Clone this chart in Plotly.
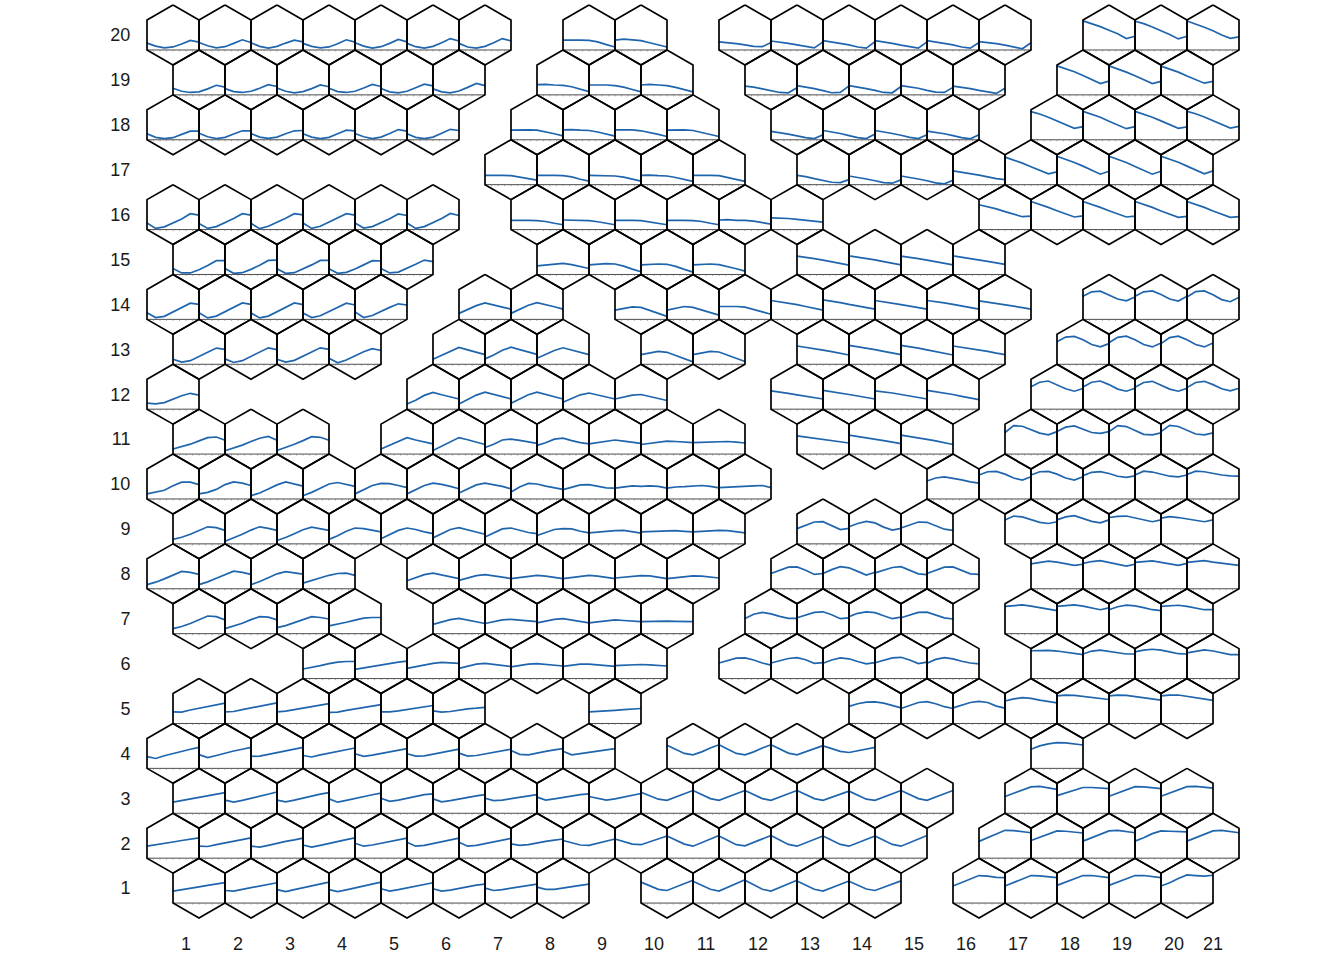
import plotly.graph_objects as go

# ------------------------------------------------------------------
# Data: for every row of the hexagonal map, the occupied columns and
# the profile drawn inside each hexagon (7 samples, 0 = panel floor,
# 1 = panel top).
# ------------------------------------------------------------------
row20_cols = [1, 2, 3, 4, 5, 6, 7, 9, 10, 12, 13, 14, 15, 16, 17, 19, 20, 21]
row20_vals = [
    [0.23, 0.13, 0.07, 0.10, 0.20, 0.32, 0.26],
    [0.25, 0.14, 0.07, 0.11, 0.22, 0.34, 0.25],
    [0.24, 0.12, 0.06, 0.12, 0.23, 0.33, 0.27],
    [0.22, 0.12, 0.07, 0.10, 0.21, 0.34, 0.26],
    [0.24, 0.13, 0.06, 0.11, 0.22, 0.35, 0.27],
    [0.22, 0.11, 0.06, 0.12, 0.24, 0.38, 0.30],
    [0.22, 0.10, 0.06, 0.12, 0.24, 0.38, 0.30],
    [0.33, 0.34, 0.33, 0.32, 0.27, 0.18, 0.10],
    [0.33, 0.36, 0.34, 0.31, 0.24, 0.17, 0.10],
    [0.27, 0.25, 0.21, 0.17, 0.12, 0.11, 0.25],
    [0.30, 0.27, 0.22, 0.17, 0.11, 0.07, 0.27],
    [0.31, 0.27, 0.22, 0.17, 0.10, 0.06, 0.28],
    [0.31, 0.27, 0.22, 0.16, 0.10, 0.06, 0.27],
    [0.31, 0.27, 0.23, 0.17, 0.10, 0.06, 0.25],
    [0.28, 0.25, 0.21, 0.16, 0.09, 0.04, 0.24],
    [0.97, 0.88, 0.78, 0.66, 0.54, 0.38, 0.46],
    [0.96, 0.88, 0.77, 0.65, 0.52, 0.37, 0.46],
    [0.97, 0.87, 0.76, 0.64, 0.50, 0.39, 0.44],
]

row19_cols = [1, 2, 3, 4, 5, 6, 8, 9, 10, 12, 13, 14, 15, 16, 18, 19, 20]
row19_vals = [
    [0.22, 0.12, 0.08, 0.10, 0.20, 0.32, 0.26],
    [0.21, 0.11, 0.08, 0.12, 0.22, 0.34, 0.28],
    [0.23, 0.12, 0.07, 0.11, 0.21, 0.33, 0.27],
    [0.22, 0.11, 0.08, 0.12, 0.23, 0.35, 0.28],
    [0.21, 0.10, 0.07, 0.12, 0.24, 0.36, 0.30],
    [0.20, 0.10, 0.07, 0.13, 0.25, 0.38, 0.31],
    [0.34, 0.35, 0.33, 0.32, 0.27, 0.18, 0.11],
    [0.33, 0.34, 0.33, 0.31, 0.26, 0.18, 0.10],
    [0.33, 0.35, 0.33, 0.31, 0.25, 0.17, 0.10],
    [0.29, 0.26, 0.20, 0.14, 0.08, 0.07, 0.24],
    [0.31, 0.27, 0.21, 0.14, 0.07, 0.08, 0.30],
    [0.31, 0.27, 0.21, 0.15, 0.08, 0.07, 0.28],
    [0.31, 0.27, 0.22, 0.15, 0.09, 0.08, 0.25],
    [0.29, 0.26, 0.21, 0.15, 0.09, 0.05, 0.22],
    [0.97, 0.88, 0.77, 0.65, 0.52, 0.38, 0.46],
    [0.97, 0.87, 0.76, 0.64, 0.51, 0.38, 0.45],
    [0.96, 0.87, 0.76, 0.63, 0.50, 0.39, 0.45],
]

row18_cols = [1, 2, 3, 4, 5, 6, 8, 9, 10, 11, 13, 14, 15, 16, 18, 19, 20, 21]
row18_vals = [
    [0.20, 0.08, 0.04, 0.07, 0.18, 0.29, 0.29],
    [0.22, 0.10, 0.04, 0.08, 0.19, 0.30, 0.30],
    [0.21, 0.09, 0.05, 0.09, 0.20, 0.30, 0.31],
    [0.20, 0.09, 0.04, 0.08, 0.20, 0.32, 0.30],
    [0.21, 0.10, 0.04, 0.09, 0.21, 0.34, 0.29],
    [0.20, 0.08, 0.04, 0.09, 0.22, 0.35, 0.31],
    [0.32, 0.33, 0.33, 0.32, 0.27, 0.20, 0.13],
    [0.33, 0.34, 0.32, 0.31, 0.26, 0.19, 0.12],
    [0.33, 0.33, 0.33, 0.30, 0.25, 0.18, 0.11],
    [0.32, 0.33, 0.33, 0.31, 0.25, 0.17, 0.11],
    [0.28, 0.24, 0.19, 0.13, 0.07, 0.04, 0.17],
    [0.31, 0.27, 0.21, 0.14, 0.07, 0.04, 0.19],
    [0.31, 0.27, 0.21, 0.15, 0.08, 0.04, 0.17],
    [0.29, 0.25, 0.20, 0.14, 0.07, 0.03, 0.17],
    [0.94, 0.86, 0.75, 0.63, 0.50, 0.38, 0.44],
    [0.95, 0.86, 0.75, 0.62, 0.50, 0.37, 0.44],
    [0.95, 0.86, 0.75, 0.63, 0.51, 0.38, 0.43],
    [0.95, 0.87, 0.76, 0.64, 0.52, 0.39, 0.45],
]

row17_cols = [7, 8, 9, 10, 11, 13, 14, 15, 16, 17, 18, 19, 20]
row17_vals = [
    [0.31, 0.32, 0.31, 0.30, 0.25, 0.19, 0.15],
    [0.31, 0.32, 0.31, 0.30, 0.26, 0.18, 0.12],
    [0.31, 0.31, 0.31, 0.29, 0.25, 0.18, 0.12],
    [0.31, 0.32, 0.30, 0.29, 0.24, 0.17, 0.11],
    [0.31, 0.32, 0.31, 0.30, 0.24, 0.16, 0.11],
    [0.31, 0.27, 0.20, 0.14, 0.08, 0.07, 0.17],
    [0.29, 0.25, 0.19, 0.13, 0.07, 0.05, 0.16],
    [0.29, 0.25, 0.19, 0.13, 0.06, 0.03, 0.15],
    [0.46, 0.42, 0.37, 0.32, 0.26, 0.20, 0.17],
    [0.92, 0.83, 0.72, 0.60, 0.47, 0.36, 0.43],
    [0.95, 0.85, 0.74, 0.62, 0.49, 0.35, 0.45],
    [0.95, 0.85, 0.74, 0.61, 0.49, 0.35, 0.45],
    [0.95, 0.86, 0.75, 0.62, 0.49, 0.36, 0.46],
]

row16_cols = [1, 2, 3, 4, 5, 6, 8, 9, 10, 11, 12, 13, 17, 18, 19, 20, 21]
row16_vals = [
    [0.22, 0.04, 0.09, 0.22, 0.35, 0.53, 0.48],
    [0.20, 0.04, 0.10, 0.23, 0.37, 0.53, 0.48],
    [0.21, 0.03, 0.11, 0.24, 0.38, 0.53, 0.49],
    [0.22, 0.04, 0.11, 0.25, 0.38, 0.53, 0.48],
    [0.22, 0.05, 0.10, 0.23, 0.36, 0.52, 0.47],
    [0.22, 0.04, 0.10, 0.23, 0.37, 0.54, 0.47],
    [0.31, 0.32, 0.31, 0.30, 0.27, 0.21, 0.16],
    [0.32, 0.32, 0.31, 0.30, 0.26, 0.20, 0.16],
    [0.31, 0.32, 0.31, 0.30, 0.26, 0.21, 0.16],
    [0.31, 0.32, 0.31, 0.30, 0.27, 0.21, 0.16],
    [0.32, 0.33, 0.31, 0.31, 0.28, 0.22, 0.18],
    [0.39, 0.39, 0.37, 0.34, 0.31, 0.28, 0.25],
    [0.83, 0.77, 0.69, 0.60, 0.51, 0.43, 0.45],
    [0.94, 0.85, 0.74, 0.63, 0.52, 0.42, 0.46],
    [0.94, 0.85, 0.74, 0.63, 0.52, 0.42, 0.45],
    [0.94, 0.85, 0.74, 0.62, 0.51, 0.41, 0.44],
    [0.94, 0.85, 0.74, 0.62, 0.51, 0.41, 0.43],
]

row15_cols = [1, 2, 3, 4, 5, 8, 9, 10, 11, 13, 14, 15, 16]
row15_vals = [
    [0.20, 0.05, 0.05, 0.16, 0.30, 0.46, 0.46],
    [0.20, 0.04, 0.06, 0.17, 0.31, 0.47, 0.48],
    [0.19, 0.04, 0.06, 0.18, 0.32, 0.47, 0.47],
    [0.19, 0.04, 0.07, 0.18, 0.32, 0.46, 0.45],
    [0.20, 0.05, 0.08, 0.20, 0.34, 0.48, 0.43],
    [0.29, 0.32, 0.36, 0.37, 0.33, 0.26, 0.20],
    [0.32, 0.34, 0.36, 0.35, 0.28, 0.18, 0.09],
    [0.32, 0.34, 0.35, 0.34, 0.27, 0.17, 0.08],
    [0.32, 0.34, 0.35, 0.33, 0.27, 0.19, 0.11],
    [0.61, 0.58, 0.53, 0.48, 0.43, 0.37, 0.31],
    [0.62, 0.58, 0.54, 0.49, 0.43, 0.38, 0.32],
    [0.61, 0.58, 0.53, 0.48, 0.43, 0.37, 0.32],
    [0.62, 0.58, 0.54, 0.48, 0.44, 0.39, 0.34],
]

row14_cols = [1, 2, 3, 4, 5, 7, 8, 10, 11, 12, 13, 14, 15, 16, 17, 19, 20, 21]
row14_vals = [
    [0.22, 0.06, 0.10, 0.24, 0.38, 0.54, 0.50],
    [0.22, 0.05, 0.11, 0.25, 0.39, 0.55, 0.50],
    [0.21, 0.05, 0.11, 0.25, 0.40, 0.55, 0.49],
    [0.21, 0.06, 0.12, 0.26, 0.40, 0.54, 0.48],
    [0.25, 0.06, 0.13, 0.27, 0.40, 0.52, 0.48],
    [0.20, 0.32, 0.46, 0.55, 0.49, 0.41, 0.34],
    [0.20, 0.33, 0.47, 0.56, 0.50, 0.42, 0.34],
    [0.31, 0.36, 0.42, 0.40, 0.31, 0.20, 0.10],
    [0.31, 0.37, 0.43, 0.40, 0.32, 0.22, 0.14],
    [0.43, 0.44, 0.43, 0.41, 0.34, 0.25, 0.17],
    [0.63, 0.59, 0.54, 0.49, 0.43, 0.37, 0.31],
    [0.65, 0.61, 0.56, 0.50, 0.45, 0.39, 0.34],
    [0.63, 0.59, 0.55, 0.49, 0.44, 0.39, 0.34],
    [0.63, 0.60, 0.55, 0.50, 0.44, 0.39, 0.34],
    [0.62, 0.58, 0.54, 0.49, 0.44, 0.39, 0.34],
    [0.77, 0.92, 0.94, 0.82, 0.68, 0.62, 0.75],
    [0.77, 0.92, 0.95, 0.83, 0.68, 0.61, 0.77],
    [0.75, 0.93, 0.95, 0.82, 0.66, 0.59, 0.74],
]

row13_cols = [1, 2, 3, 4, 6, 7, 8, 10, 11, 13, 14, 15, 16, 18, 19, 20]
row13_vals = [
    [0.17, 0.07, 0.12, 0.25, 0.40, 0.54, 0.50],
    [0.18, 0.06, 0.12, 0.26, 0.40, 0.55, 0.49],
    [0.17, 0.07, 0.13, 0.26, 0.41, 0.55, 0.50],
    [0.20, 0.05, 0.14, 0.28, 0.42, 0.52, 0.46],
    [0.17, 0.30, 0.45, 0.56, 0.48, 0.40, 0.32],
    [0.18, 0.31, 0.47, 0.57, 0.49, 0.41, 0.33],
    [0.20, 0.32, 0.46, 0.55, 0.47, 0.39, 0.32],
    [0.32, 0.37, 0.43, 0.40, 0.30, 0.19, 0.08],
    [0.32, 0.38, 0.43, 0.41, 0.30, 0.20, 0.09],
    [0.61, 0.57, 0.52, 0.47, 0.42, 0.36, 0.31],
    [0.63, 0.59, 0.54, 0.49, 0.43, 0.37, 0.32],
    [0.63, 0.59, 0.54, 0.48, 0.43, 0.37, 0.31],
    [0.61, 0.57, 0.53, 0.48, 0.43, 0.37, 0.32],
    [0.75, 0.91, 0.93, 0.82, 0.66, 0.58, 0.69],
    [0.72, 0.90, 0.94, 0.82, 0.66, 0.58, 0.71],
    [0.69, 0.89, 0.94, 0.82, 0.66, 0.58, 0.71],
]

row12_cols = [1, 6, 7, 8, 9, 10, 13, 14, 15, 16, 18, 19, 20, 21]
row12_vals = [
    [0.20, 0.18, 0.22, 0.34, 0.45, 0.53, 0.47],
    [0.17, 0.30, 0.46, 0.56, 0.48, 0.41, 0.34],
    [0.17, 0.31, 0.47, 0.57, 0.49, 0.41, 0.34],
    [0.20, 0.33, 0.48, 0.57, 0.49, 0.42, 0.34],
    [0.23, 0.35, 0.48, 0.54, 0.47, 0.40, 0.34],
    [0.34, 0.40, 0.47, 0.49, 0.42, 0.35, 0.29],
    [0.61, 0.58, 0.53, 0.48, 0.44, 0.38, 0.34],
    [0.63, 0.59, 0.54, 0.49, 0.44, 0.39, 0.34],
    [0.61, 0.58, 0.54, 0.49, 0.44, 0.39, 0.34],
    [0.63, 0.59, 0.54, 0.49, 0.43, 0.37, 0.32],
    [0.75, 0.90, 0.94, 0.82, 0.68, 0.60, 0.69],
    [0.74, 0.90, 0.94, 0.82, 0.67, 0.60, 0.70],
    [0.73, 0.89, 0.93, 0.81, 0.67, 0.60, 0.70],
    [0.72, 0.89, 0.93, 0.82, 0.68, 0.61, 0.70],
]

row11_cols = [1, 2, 3, 5, 6, 7, 8, 9, 10, 11, 13, 14, 15, 17, 18, 19, 20]
row11_vals = [
    [0.17, 0.24, 0.33, 0.44, 0.55, 0.57, 0.46],
    [0.11, 0.20, 0.30, 0.42, 0.53, 0.59, 0.46],
    [0.12, 0.22, 0.33, 0.45, 0.58, 0.56, 0.46],
    [0.17, 0.30, 0.44, 0.55, 0.47, 0.40, 0.34],
    [0.12, 0.26, 0.42, 0.55, 0.48, 0.39, 0.32],
    [0.22, 0.33, 0.47, 0.50, 0.46, 0.41, 0.36],
    [0.29, 0.38, 0.50, 0.53, 0.45, 0.38, 0.34],
    [0.34, 0.38, 0.44, 0.47, 0.43, 0.40, 0.36],
    [0.32, 0.36, 0.40, 0.43, 0.42, 0.40, 0.38],
    [0.38, 0.39, 0.41, 0.43, 0.42, 0.40, 0.37],
    [0.61, 0.57, 0.53, 0.49, 0.45, 0.41, 0.37],
    [0.63, 0.59, 0.55, 0.50, 0.45, 0.40, 0.35],
    [0.63, 0.59, 0.54, 0.49, 0.44, 0.39, 0.32],
    [0.72, 0.95, 0.93, 0.82, 0.70, 0.64, 0.75],
    [0.75, 0.90, 0.94, 0.84, 0.72, 0.69, 0.75],
    [0.75, 0.95, 0.92, 0.80, 0.66, 0.64, 0.71],
    [0.75, 0.96, 0.92, 0.80, 0.67, 0.64, 0.71],
]

row10_cols = [1, 2, 3, 4, 5, 6, 7, 8, 9, 10, 11, 12, 16, 17, 18, 19, 20, 21]
row10_vals = [
    [0.17, 0.22, 0.29, 0.44, 0.56, 0.56, 0.48],
    [0.17, 0.22, 0.32, 0.48, 0.57, 0.53, 0.45],
    [0.11, 0.20, 0.33, 0.47, 0.57, 0.51, 0.43],
    [0.11, 0.22, 0.36, 0.50, 0.55, 0.48, 0.42],
    [0.17, 0.30, 0.45, 0.52, 0.51, 0.45, 0.38],
    [0.17, 0.31, 0.45, 0.53, 0.49, 0.42, 0.34],
    [0.20, 0.34, 0.47, 0.53, 0.48, 0.42, 0.34],
    [0.23, 0.40, 0.52, 0.50, 0.43, 0.37, 0.32],
    [0.31, 0.40, 0.47, 0.48, 0.42, 0.37, 0.36],
    [0.36, 0.40, 0.44, 0.42, 0.44, 0.42, 0.36],
    [0.36, 0.40, 0.41, 0.43, 0.45, 0.42, 0.37],
    [0.38, 0.40, 0.41, 0.42, 0.44, 0.45, 0.38],
    [0.60, 0.70, 0.74, 0.70, 0.64, 0.57, 0.53],
    [0.80, 0.91, 0.92, 0.83, 0.70, 0.63, 0.74],
    [0.80, 0.91, 0.92, 0.83, 0.70, 0.63, 0.74],
    [0.78, 0.89, 0.91, 0.85, 0.76, 0.72, 0.77],
    [0.80, 0.93, 0.90, 0.84, 0.76, 0.74, 0.80],
    [0.82, 0.93, 0.91, 0.85, 0.80, 0.77, 0.76],
]

row9_cols = [1, 2, 3, 4, 5, 6, 7, 8, 9, 10, 11, 13, 14, 15, 17, 18, 19, 20]
row9_vals = [
    [0.15, 0.22, 0.32, 0.45, 0.57, 0.54, 0.45],
    [0.09, 0.20, 0.32, 0.46, 0.57, 0.52, 0.45],
    [0.11, 0.21, 0.34, 0.47, 0.56, 0.51, 0.45],
    [0.15, 0.27, 0.42, 0.53, 0.51, 0.45, 0.40],
    [0.17, 0.30, 0.45, 0.53, 0.48, 0.40, 0.34],
    [0.20, 0.33, 0.48, 0.54, 0.46, 0.38, 0.32],
    [0.23, 0.37, 0.50, 0.53, 0.45, 0.38, 0.34],
    [0.28, 0.39, 0.48, 0.51, 0.50, 0.42, 0.37],
    [0.37, 0.40, 0.42, 0.44, 0.45, 0.41, 0.36],
    [0.40, 0.41, 0.42, 0.45, 0.44, 0.42, 0.40],
    [0.40, 0.42, 0.43, 0.45, 0.44, 0.40, 0.37],
    [0.51, 0.62, 0.73, 0.74, 0.62, 0.48, 0.52],
    [0.57, 0.68, 0.75, 0.70, 0.56, 0.46, 0.52],
    [0.53, 0.64, 0.73, 0.72, 0.60, 0.49, 0.45],
    [0.80, 0.93, 0.90, 0.82, 0.72, 0.68, 0.74],
    [0.80, 0.90, 0.94, 0.85, 0.75, 0.70, 0.80],
    [0.88, 0.92, 0.93, 0.87, 0.80, 0.74, 0.80],
    [0.86, 0.91, 0.88, 0.84, 0.78, 0.74, 0.80],
]

row8_cols = [1, 2, 3, 4, 6, 7, 8, 9, 10, 11, 13, 14, 15, 16, 18, 19, 20, 21]
row8_vals = [
    [0.14, 0.22, 0.33, 0.46, 0.58, 0.55, 0.48],
    [0.14, 0.23, 0.35, 0.48, 0.59, 0.55, 0.48],
    [0.14, 0.24, 0.37, 0.50, 0.57, 0.52, 0.49],
    [0.19, 0.28, 0.37, 0.45, 0.51, 0.52, 0.45],
    [0.27, 0.36, 0.47, 0.52, 0.46, 0.40, 0.34],
    [0.28, 0.37, 0.44, 0.47, 0.44, 0.39, 0.34],
    [0.34, 0.38, 0.42, 0.45, 0.42, 0.38, 0.34],
    [0.34, 0.38, 0.43, 0.45, 0.42, 0.38, 0.34],
    [0.36, 0.39, 0.42, 0.44, 0.43, 0.39, 0.34],
    [0.34, 0.37, 0.41, 0.43, 0.42, 0.39, 0.36],
    [0.51, 0.62, 0.72, 0.73, 0.62, 0.48, 0.51],
    [0.51, 0.64, 0.74, 0.70, 0.58, 0.46, 0.55],
    [0.53, 0.62, 0.71, 0.74, 0.63, 0.50, 0.47],
    [0.51, 0.62, 0.72, 0.73, 0.62, 0.50, 0.48],
    [0.83, 0.88, 0.92, 0.89, 0.83, 0.78, 0.82],
    [0.85, 0.91, 0.94, 0.88, 0.80, 0.76, 0.82],
    [0.88, 0.91, 0.93, 0.88, 0.82, 0.78, 0.85],
    [0.88, 0.91, 0.94, 0.89, 0.86, 0.81, 0.78],
]

row7_cols = [1, 2, 3, 4, 6, 7, 8, 9, 10, 12, 13, 14, 15, 17, 18, 19, 20]
row7_vals = [
    [0.17, 0.24, 0.34, 0.46, 0.59, 0.57, 0.46],
    [0.17, 0.25, 0.35, 0.47, 0.57, 0.55, 0.46],
    [0.20, 0.27, 0.37, 0.48, 0.57, 0.54, 0.49],
    [0.26, 0.31, 0.38, 0.45, 0.52, 0.54, 0.54],
    [0.31, 0.39, 0.47, 0.51, 0.46, 0.39, 0.34],
    [0.34, 0.40, 0.46, 0.48, 0.45, 0.41, 0.40],
    [0.36, 0.42, 0.48, 0.50, 0.45, 0.40, 0.36],
    [0.36, 0.40, 0.44, 0.46, 0.44, 0.42, 0.40],
    [0.40, 0.41, 0.41, 0.42, 0.41, 0.41, 0.40],
    [0.51, 0.65, 0.71, 0.66, 0.58, 0.51, 0.51],
    [0.53, 0.62, 0.71, 0.73, 0.63, 0.50, 0.53],
    [0.57, 0.68, 0.73, 0.70, 0.60, 0.50, 0.55],
    [0.53, 0.63, 0.71, 0.72, 0.62, 0.53, 0.49],
    [0.91, 0.93, 0.96, 0.92, 0.87, 0.82, 0.77],
    [0.91, 0.94, 0.96, 0.92, 0.86, 0.80, 0.86],
    [0.80, 0.90, 0.95, 0.93, 0.87, 0.80, 0.77],
    [0.91, 0.94, 0.95, 0.91, 0.86, 0.80, 0.80],
]

row6_cols = [4, 5, 6, 7, 8, 9, 10, 12, 13, 14, 15, 16, 18, 19, 20, 21]
row6_vals = [
    [0.32, 0.37, 0.43, 0.50, 0.55, 0.57, 0.57],
    [0.31, 0.36, 0.41, 0.46, 0.51, 0.55, 0.58],
    [0.34, 0.40, 0.46, 0.51, 0.54, 0.53, 0.51],
    [0.34, 0.41, 0.48, 0.51, 0.48, 0.43, 0.40],
    [0.39, 0.44, 0.48, 0.50, 0.48, 0.44, 0.42],
    [0.41, 0.45, 0.48, 0.48, 0.46, 0.44, 0.41],
    [0.43, 0.45, 0.47, 0.47, 0.46, 0.44, 0.42],
    [0.52, 0.61, 0.68, 0.69, 0.62, 0.52, 0.45],
    [0.52, 0.59, 0.67, 0.70, 0.63, 0.51, 0.53],
    [0.51, 0.62, 0.69, 0.66, 0.57, 0.49, 0.53],
    [0.53, 0.62, 0.69, 0.71, 0.62, 0.50, 0.55],
    [0.51, 0.64, 0.70, 0.66, 0.58, 0.52, 0.49],
    [0.93, 0.94, 0.94, 0.92, 0.88, 0.83, 0.80],
    [0.82, 0.92, 0.95, 0.91, 0.86, 0.82, 0.82],
    [0.89, 0.95, 0.98, 0.95, 0.89, 0.83, 0.82],
    [0.86, 0.92, 0.96, 0.92, 0.86, 0.80, 0.80],
]

row5_cols = [1, 2, 3, 4, 5, 6, 9, 14, 15, 16, 17, 18, 19, 20]
row5_vals = [
    [0.39, 0.38, 0.45, 0.51, 0.57, 0.62, 0.68],
    [0.39, 0.40, 0.46, 0.52, 0.58, 0.63, 0.69],
    [0.39, 0.41, 0.46, 0.51, 0.56, 0.61, 0.66],
    [0.37, 0.38, 0.44, 0.49, 0.55, 0.59, 0.63],
    [0.39, 0.39, 0.42, 0.47, 0.52, 0.55, 0.60],
    [0.42, 0.38, 0.40, 0.45, 0.49, 0.51, 0.54],
    [0.39, 0.40, 0.42, 0.44, 0.46, 0.48, 0.50],
    [0.57, 0.66, 0.71, 0.72, 0.68, 0.60, 0.52],
    [0.50, 0.60, 0.70, 0.73, 0.66, 0.56, 0.50],
    [0.52, 0.60, 0.70, 0.74, 0.70, 0.58, 0.51],
    [0.75, 0.82, 0.86, 0.84, 0.78, 0.73, 0.69],
    [0.92, 0.95, 0.94, 0.91, 0.87, 0.83, 0.80],
    [0.92, 0.95, 0.94, 0.90, 0.86, 0.82, 0.78],
    [0.92, 0.95, 0.95, 0.91, 0.87, 0.82, 0.77],
]

row4_cols = [1, 2, 3, 4, 5, 6, 7, 8, 9, 11, 12, 13, 14, 18]
row4_vals = [
    [0.39, 0.33, 0.42, 0.50, 0.57, 0.64, 0.70],
    [0.46, 0.36, 0.43, 0.51, 0.58, 0.64, 0.70],
    [0.40, 0.41, 0.47, 0.53, 0.59, 0.64, 0.70],
    [0.43, 0.38, 0.45, 0.51, 0.57, 0.63, 0.68],
    [0.49, 0.40, 0.44, 0.50, 0.56, 0.61, 0.66],
    [0.49, 0.41, 0.42, 0.48, 0.54, 0.60, 0.64],
    [0.51, 0.41, 0.43, 0.48, 0.53, 0.58, 0.64],
    [0.60, 0.47, 0.45, 0.52, 0.57, 0.62, 0.66],
    [0.57, 0.45, 0.49, 0.54, 0.58, 0.62, 0.66],
    [0.77, 0.64, 0.50, 0.45, 0.55, 0.68, 0.79],
    [0.79, 0.65, 0.50, 0.45, 0.55, 0.68, 0.79],
    [0.79, 0.65, 0.51, 0.45, 0.55, 0.67, 0.76],
    [0.75, 0.66, 0.57, 0.53, 0.58, 0.65, 0.70],
    [0.64, 0.75, 0.82, 0.86, 0.85, 0.82, 0.78],
]

row3_cols = [1, 2, 3, 4, 5, 6, 7, 8, 9, 10, 11, 12, 13, 14, 15, 17, 18, 19, 20]
row3_vals = [
    [0.37, 0.42, 0.47, 0.53, 0.58, 0.64, 0.69],
    [0.44, 0.37, 0.43, 0.50, 0.57, 0.64, 0.71],
    [0.44, 0.38, 0.44, 0.51, 0.58, 0.64, 0.69],
    [0.48, 0.37, 0.43, 0.50, 0.56, 0.62, 0.67],
    [0.50, 0.40, 0.44, 0.50, 0.56, 0.62, 0.65],
    [0.48, 0.38, 0.42, 0.48, 0.53, 0.58, 0.62],
    [0.50, 0.42, 0.44, 0.49, 0.54, 0.58, 0.62],
    [0.54, 0.44, 0.48, 0.53, 0.58, 0.62, 0.65],
    [0.56, 0.50, 0.44, 0.48, 0.54, 0.60, 0.66],
    [0.70, 0.58, 0.47, 0.43, 0.53, 0.65, 0.76],
    [0.76, 0.62, 0.49, 0.43, 0.53, 0.65, 0.76],
    [0.76, 0.62, 0.49, 0.43, 0.53, 0.65, 0.76],
    [0.76, 0.62, 0.49, 0.43, 0.53, 0.65, 0.74],
    [0.74, 0.60, 0.47, 0.43, 0.54, 0.66, 0.76],
    [0.76, 0.62, 0.49, 0.43, 0.53, 0.65, 0.76],
    [0.56, 0.66, 0.78, 0.88, 0.90, 0.85, 0.80],
    [0.59, 0.68, 0.78, 0.86, 0.86, 0.84, 0.82],
    [0.57, 0.67, 0.79, 0.89, 0.88, 0.84, 0.82],
    [0.57, 0.67, 0.79, 0.89, 0.90, 0.86, 0.84],
]

row2_cols = [1, 2, 3, 4, 5, 6, 7, 8, 9, 10, 11, 12, 13, 14, 15, 17, 18, 19, 20, 21]
row2_vals = [
    [0.40, 0.44, 0.49, 0.54, 0.59, 0.63, 0.68],
    [0.40, 0.39, 0.45, 0.51, 0.57, 0.62, 0.68],
    [0.40, 0.37, 0.43, 0.50, 0.56, 0.61, 0.67],
    [0.44, 0.37, 0.43, 0.50, 0.56, 0.62, 0.68],
    [0.50, 0.40, 0.44, 0.50, 0.55, 0.61, 0.67],
    [0.53, 0.40, 0.43, 0.49, 0.54, 0.60, 0.67],
    [0.53, 0.40, 0.43, 0.49, 0.54, 0.60, 0.66],
    [0.48, 0.43, 0.45, 0.51, 0.56, 0.60, 0.64],
    [0.59, 0.51, 0.44, 0.43, 0.50, 0.57, 0.64],
    [0.64, 0.55, 0.47, 0.45, 0.55, 0.65, 0.74],
    [0.74, 0.60, 0.47, 0.40, 0.52, 0.64, 0.76],
    [0.74, 0.60, 0.45, 0.41, 0.53, 0.66, 0.76],
    [0.76, 0.62, 0.46, 0.40, 0.52, 0.64, 0.74],
    [0.74, 0.60, 0.46, 0.40, 0.52, 0.64, 0.74],
    [0.74, 0.60, 0.46, 0.40, 0.52, 0.65, 0.76],
    [0.56, 0.68, 0.82, 0.93, 0.92, 0.88, 0.85],
    [0.59, 0.70, 0.82, 0.91, 0.90, 0.88, 0.84],
    [0.57, 0.68, 0.80, 0.91, 0.93, 0.89, 0.85],
    [0.57, 0.68, 0.82, 0.91, 0.90, 0.88, 0.88],
    [0.57, 0.68, 0.80, 0.91, 0.93, 0.89, 0.85],
]

row1_cols = [1, 2, 3, 4, 5, 6, 7, 8, 10, 11, 12, 13, 14, 16, 17, 18, 19, 20]
row1_vals = [
    [0.40, 0.44, 0.49, 0.54, 0.59, 0.64, 0.68],
    [0.42, 0.40, 0.46, 0.52, 0.58, 0.63, 0.68],
    [0.45, 0.38, 0.45, 0.51, 0.58, 0.64, 0.70],
    [0.45, 0.38, 0.44, 0.51, 0.57, 0.64, 0.70],
    [0.48, 0.40, 0.45, 0.51, 0.57, 0.63, 0.68],
    [0.48, 0.40, 0.43, 0.49, 0.55, 0.60, 0.63],
    [0.50, 0.42, 0.45, 0.50, 0.55, 0.60, 0.63],
    [0.53, 0.46, 0.46, 0.51, 0.55, 0.59, 0.63],
    [0.70, 0.58, 0.46, 0.42, 0.53, 0.65, 0.76],
    [0.73, 0.59, 0.46, 0.40, 0.52, 0.65, 0.78],
    [0.76, 0.61, 0.46, 0.40, 0.52, 0.65, 0.76],
    [0.74, 0.60, 0.46, 0.40, 0.52, 0.64, 0.74],
    [0.73, 0.60, 0.47, 0.42, 0.52, 0.63, 0.74],
    [0.57, 0.68, 0.81, 0.92, 0.90, 0.86, 0.85],
    [0.57, 0.68, 0.81, 0.92, 0.91, 0.87, 0.85],
    [0.59, 0.70, 0.82, 0.92, 0.92, 0.88, 0.85],
    [0.59, 0.70, 0.82, 0.92, 0.92, 0.88, 0.85],
    [0.57, 0.68, 0.82, 0.94, 0.92, 0.90, 0.93],
]

x_tick_labels = [str(k) for k in range(1, 22)]
y_tick_labels = [str(k) for k in range(1, 21)]

# ------------------------------------------------------------------
rows = {
    20: (row20_cols, row20_vals), 19: (row19_cols, row19_vals),
    18: (row18_cols, row18_vals), 17: (row17_cols, row17_vals),
    16: (row16_cols, row16_vals), 15: (row15_cols, row15_vals),
    14: (row14_cols, row14_vals), 13: (row13_cols, row13_vals),
    12: (row12_cols, row12_vals), 11: (row11_cols, row11_vals),
    10: (row10_cols, row10_vals), 9: (row9_cols, row9_vals),
    8: (row8_cols, row8_vals), 7: (row7_cols, row7_vals),
    6: (row6_cols, row6_vals), 5: (row5_cols, row5_vals),
    4: (row4_cols, row4_vals), 3: (row3_cols, row3_vals),
    2: (row2_cols, row2_vals), 1: (row1_cols, row1_vals),
}

RAD = 2.0 / 3.0      # hexagon circumradius in row units (row pitch = 1.5 R)
HALF_W = 0.5         # half width of a hexagon in column units
hex_dx = [0, HALF_W, HALF_W, 0, -HALF_W, -HALF_W, 0]
hex_dy = [RAD, RAD / 2, -RAD / 2, -RAD, -RAD / 2, RAD / 2, RAD]
N_TICKS = 8
TICK_LEN = 0.035

hex_x, hex_y = [], []
prof_x, prof_y = [], []
base_x, base_y = [], []
tk_x, tk_y = [], []
col_parity = {}

for r, (cols, vals) in rows.items():
    assert len(cols) == len(vals), r
    shift = 0.5 if r % 2 == 1 else 0.0
    for c, v in zip(cols, vals):
        cx, cy = c + shift, r
        col_parity.setdefault(c, set()).add(shift)
        hex_x += [cx + d for d in hex_dx] + [None]
        hex_y += [cy + d for d in hex_dy] + [None]
        floor = cy - RAD / 2
        n = len(v)
        prof_x += [cx - HALF_W + 2 * HALF_W * i / (n - 1) for i in range(n)] + [None]
        prof_y += [floor + RAD * val for val in v] + [None]
        base_x += [cx - HALF_W, cx + HALF_W, None]
        base_y += [floor, floor, None]
        for k in range(1, N_TICKS):
            tx = cx - HALF_W + 2 * HALF_W * k / N_TICKS
            tk_x += [tx, tx, None]
            tk_y += [floor, floor - TICK_LEN, None]

# column labels sit at the mean of the column's even/odd row positions
x_tick_pos = [k + sum(col_parity[k]) / len(col_parity[k]) for k in range(1, 22)]
y_tick_pos = list(range(1, 21))

fig = go.Figure()
fig.add_trace(go.Scatter(x=base_x, y=base_y, mode="lines",
                         line=dict(color="#4d4d4d", width=1.0),
                         hoverinfo="skip", showlegend=False))
fig.add_trace(go.Scatter(x=tk_x, y=tk_y, mode="lines",
                         line=dict(color="#777777", width=0.6),
                         hoverinfo="skip", showlegend=False))
fig.add_trace(go.Scatter(x=prof_x, y=prof_y, mode="lines",
                         line=dict(color="#1F65AD", width=1.7),
                         hoverinfo="skip", showlegend=False))
fig.add_trace(go.Scatter(x=hex_x, y=hex_y, mode="lines",
                         line=dict(color="#000000", width=1.7),
                         hoverinfo="skip", showlegend=False))

W, H = 1344, 960
L, RM, T, B = 140, 94, 0, 35
px_per_col = 52.0
px_per_row = 44.9
x0 = 1 - (173 - L) / px_per_col
x1 = x0 + (W - L - RM) / px_per_col
y1 = 20 + 35 / px_per_row
y0 = y1 - (H - T - B) / px_per_row

font = dict(family="Liberation Sans, Arial, sans-serif", size=18, color="#1a1a1a")
fig.update_layout(
    width=W, height=H,
    margin=dict(l=L, r=RM, t=T, b=B),
    paper_bgcolor="white", plot_bgcolor="white",
    font=font,
    xaxis=dict(range=[x0, x1], showgrid=False, zeroline=False, showline=False,
               tickmode="array", tickvals=x_tick_pos, ticktext=x_tick_labels,
               ticks="outside", ticklen=2, tickcolor="rgba(0,0,0,0)",
               tickfont=font, fixedrange=True),
    yaxis=dict(range=[y0, y1], showgrid=False, zeroline=False, showline=False,
               tickmode="array", tickvals=y_tick_pos, ticktext=y_tick_labels,
               ticks="outside", ticklen=5, tickcolor="rgba(0,0,0,0)",
               tickfont=font, fixedrange=True),
)

fig.write_html("out.html", config={"displayModeBar": False, "staticPlot": True},
               post_script="document.body.style.margin='0';document.body.style.overflow='hidden';")
